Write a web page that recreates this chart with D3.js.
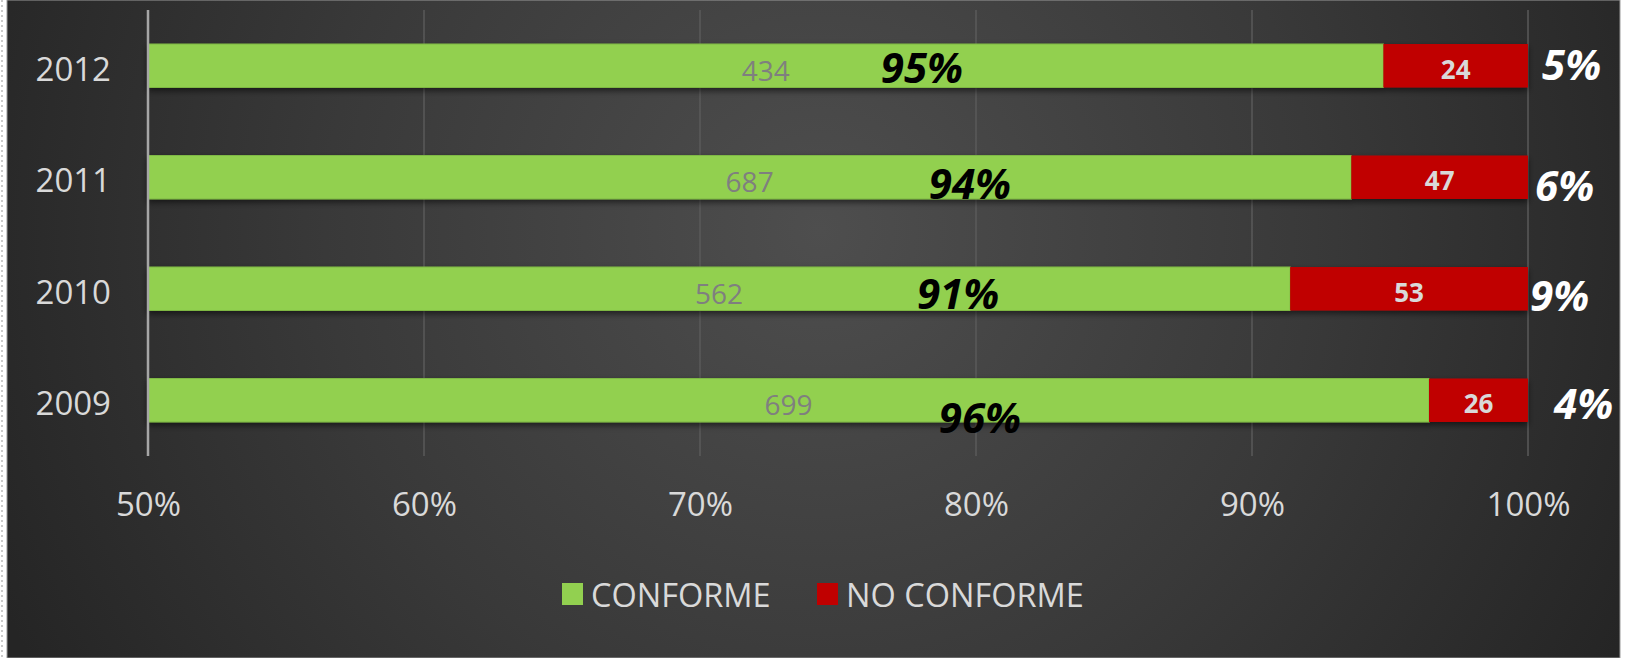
<!DOCTYPE html>
<html>
<head>
<meta charset="utf-8">
<script src="https://cdn.jsdelivr.net/npm/d3@7"></script>
<style>
  body { margin: 0; background: white; }
  text { font-family: "Open Sans", sans-serif; }
</style>
</head>
<body>
<div id="chart-area"></div>
<script>
// data, top to bottom
const years = ["2012", "2011", "2010", "2009"]
const conforme = [434, 687, 562, 699]
const noConforme = [24, 47, 53, 26]
const xTicks = [0.5, 0.6, 0.7, 0.8, 0.9, 1]
const seriesNames = ["CONFORME", "NO CONFORME"]

// hand placed labels (as in the original): x in share units, y nudge in px
const bigLabelX = [0.7804, 0.7978, 0.7935, 0.8014]
const bigLabelDy = [1, 5, 4, 16]
const sideLabelDx = [14, 7, 2, 26]
const sideLabelDy = [-2, 7, 6, 2]

const W = 1631, H = 658
const margin = {left: 148, right: 103, top: 10, bottom: 202}
const width = W - margin.left - margin.right,
    height = H - margin.top - margin.bottom

const colors = ["#92d050", "#c00000"]

const svg = d3.select("#chart-area").append("svg")
    .attr("width", W)
    .attr("height", H)

const defs = svg.append("defs")
const grad = defs.append("radialGradient")
    .attr("id", "bg")
    .attr("gradientUnits", "userSpaceOnUse")
    .attr("cx", 820).attr("cy", 230).attr("r", 900)
grad.append("stop").attr("offset", "0%").attr("stop-color", "#4e4e4e")
grad.append("stop").attr("offset", "55%").attr("stop-color", "#393939")
grad.append("stop").attr("offset", "100%").attr("stop-color", "#252525")

const shadow = defs.append("filter").attr("id", "shadow")
    .attr("x", "-5%").attr("y", "-30%").attr("width", "110%").attr("height", "180%")
shadow.append("feDropShadow")
    .attr("dx", 0).attr("dy", 3).attr("stdDeviation", 3)
    .attr("flood-color", "#000").attr("flood-opacity", 0.55)

// panel
svg.append("line")
    .attr("x1", 2).attr("x2", 2).attr("y1", 0).attr("y2", H)
    .attr("stroke", "#bbb").attr("stroke-width", 1.5)
    .attr("stroke-dasharray", "2,3")
svg.append("rect")
    .attr("x", 7).attr("y", 0)
    .attr("width", 1613).attr("height", H)
    .attr("fill", "url(#bg)")
    .attr("stroke", "#999").attr("stroke-width", 1)

const g = svg.append("g")
    .attr("transform", `translate(${margin.left}, ${margin.top})`)

const x = d3.scaleLinear()
    .domain([0.5, 1])
    .range([0, width])

const y = d3.scaleBand()
    .domain(years)
    .range([0, height])
    .paddingInner(0.61)
    .paddingOuter(0.305)

// gridlines
g.append("g")
    .selectAll("line")
    .data(xTicks.slice(1))
    .join("line")
    .attr("x1", d => x(d)).attr("x2", d => x(d))
    .attr("y1", 0).attr("y2", height)
    .attr("stroke", "#5a5a5a")
    .attr("stroke-width", 1.5)

// x axis labels
const xAxisCall = d3.axisBottom(x)
    .tickValues(xTicks)
    .tickFormat(d3.format(".0%"))
    .tickSize(0)
    .tickPadding(37)

const xAxis = g.append("g")
    .attr("class", "x axis")
    .attr("transform", `translate(0, ${height})`)
    .call(xAxisCall)
xAxis.select(".domain").remove()
xAxis.selectAll("text")
    .attr("fill", "#d9d9d9")
    .attr("font-size", "33px")
    .attr("font-family", "Open Sans, sans-serif")

// y axis labels
const yAxisCall = d3.axisLeft(y).tickSize(0).tickPadding(37)
const yAxis = g.append("g")
    .attr("class", "y axis")
    .call(yAxisCall)
yAxis.select(".domain").remove()
yAxis.selectAll("text")
    .attr("fill", "#d9d9d9")
    .attr("font-size", "33px")
    .attr("font-family", "Open Sans, sans-serif")
    .attr("dy", "0.45em")

const rows = years.map((yr, i) => {
    const total = conforme[i] + noConforme[i]
    return {
        year: yr, i: i,
        ok: conforme[i], bad: noConforme[i],
        okShare: conforme[i] / total,
        badShare: noConforme[i] / total
    }
})

// bars
const bars = g.append("g").attr("filter", "url(#shadow)")
bars.selectAll("rect.ok")
    .data(rows)
    .join("rect")
    .attr("class", "ok")
    .attr("x", x(0.5))
    .attr("y", d => y(d.year))
    .attr("width", d => x(d.okShare) - x(0.5))
    .attr("height", y.bandwidth())
    .attr("fill", colors[0])
    .attr("stroke", "#7fb844").attr("stroke-width", 1)

bars.selectAll("rect.bad")
    .data(rows)
    .join("rect")
    .attr("class", "bad")
    .attr("x", d => x(d.okShare))
    .attr("y", d => y(d.year))
    .attr("width", d => x(1) - x(d.okShare))
    .attr("height", y.bandwidth())
    .attr("fill", colors[1])

// left axis line on top of bars
g.append("line")
    .attr("x1", x(0.5)).attr("x2", x(0.5))
    .attr("y1", 0).attr("y2", height)
    .attr("stroke", "#a6a6a6")
    .attr("stroke-width", 2.5)

const mid = d => y(d.year) + y.bandwidth() / 2

// counts
g.selectAll("text.okCount")
    .data(rows)
    .join("text")
    .attr("class", "okCount")
    .attr("x", d => (x(0.5) + x(d.okShare)) / 2)
    .attr("y", d => mid(d) + 4)
    .attr("text-anchor", "middle")
    .attr("dominant-baseline", "central")
    .attr("font-size", "28px")
    .attr("fill", "#7f7f7f")
    .text(d => d.ok)

g.selectAll("text.badCount")
    .data(rows)
    .join("text")
    .attr("class", "badCount")
    .attr("x", d => (x(d.okShare) + x(1)) / 2)
    .attr("y", d => mid(d) + 3)
    .attr("text-anchor", "middle")
    .attr("dominant-baseline", "central")
    .attr("font-size", "26px")
    .attr("font-weight", "bold")
    .attr("fill", "#d9d9d9")
    .text(d => d.bad)

const pct = d3.format(".0%")

// big percentages inside green bars
g.selectAll("text.okPct")
    .data(rows)
    .join("text")
    .attr("class", "okPct")
    .attr("x", d => x(bigLabelX[d.i]))
    .attr("y", d => mid(d) + bigLabelDy[d.i])
    .attr("text-anchor", "middle")
    .attr("dominant-baseline", "central")
    .attr("font-size", "42px")
    .attr("font-weight", "bold")
    .attr("font-style", "italic")
    .attr("fill", "#000")
    .text(d => pct(d.okShare))

// percentages to the right
g.selectAll("text.badPct")
    .data(rows)
    .join("text")
    .attr("class", "badPct")
    .attr("x", d => x(1) + sideLabelDx[d.i])
    .attr("y", d => mid(d) + sideLabelDy[d.i])
    .attr("text-anchor", "start")
    .attr("dominant-baseline", "central")
    .attr("font-size", "42px")
    .attr("font-weight", "bold")
    .attr("font-style", "italic")
    .attr("fill", "#fff")
    .text(d => pct(d.badShare))

// legend
const legend = svg.append("g").attr("transform", "translate(562, 594)")
const legendX = [0, 255]
seriesNames.forEach((name, i) => {
    const item = legend.append("g").attr("transform", `translate(${legendX[i]}, 0)`)
    item.append("rect")
        .attr("x", 0).attr("y", -11)
        .attr("width", 21).attr("height", 22)
        .attr("fill", colors[i])
    item.append("text")
        .attr("x", 29).attr("y", 0)
        .attr("dominant-baseline", "central")
        .attr("font-size", "32.5px")
        .attr("fill", "#d9d9d9")
        .text(name)
})
</script>
</body>
</html>
